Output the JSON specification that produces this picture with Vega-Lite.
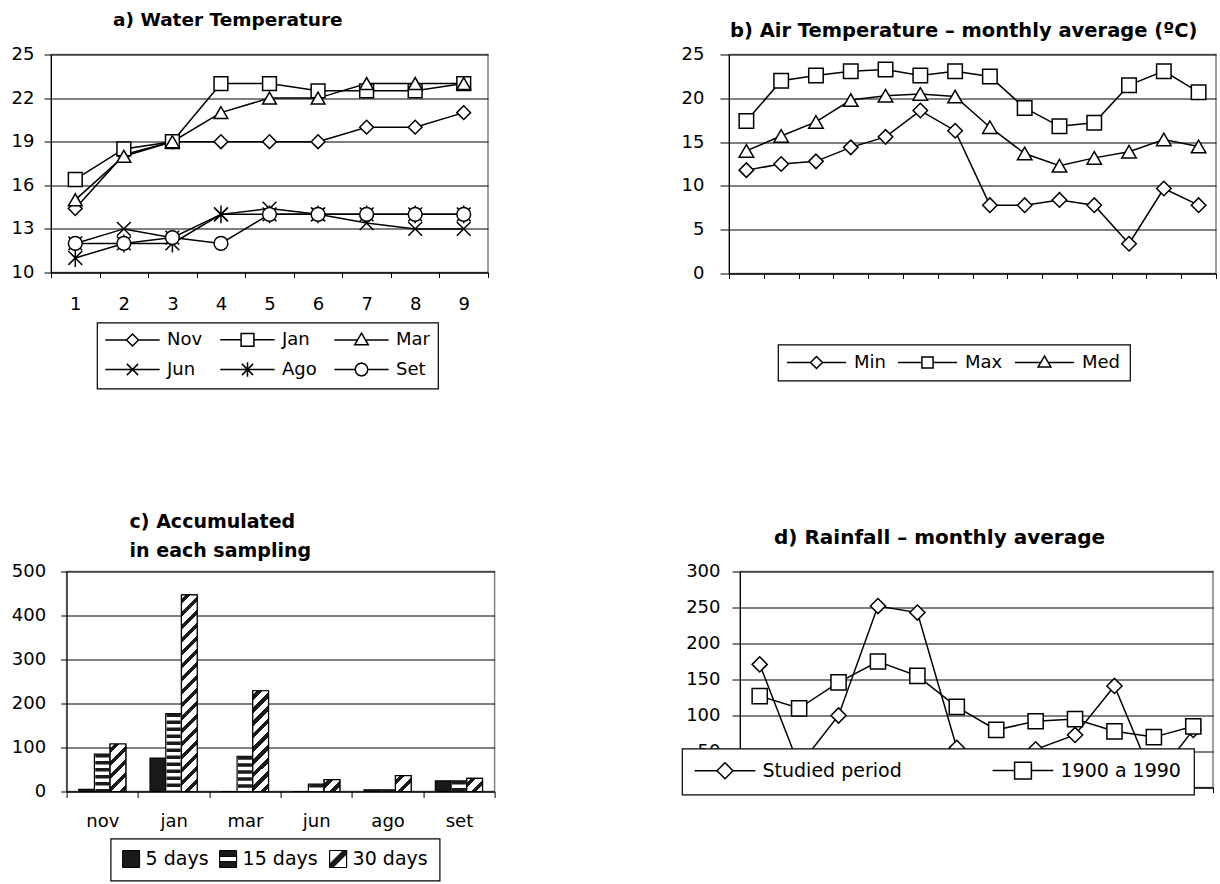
{
  "$schema": "https://vega.github.io/schema/vega-lite/v6.json",
  "padding": {"left": 10, "top": 9.5, "right": 0, "bottom": 0},
  "background": "white",
  "config": {
    "font": "DejaVu Sans",
    "view": {"stroke": "#808080", "strokeWidth": 1.5},
    "axis": {"labelFont": "DejaVu Sans", "labelFontSize": 18, "labelColor": "black", "domainColor": "black", "domainWidth": 1, "tickColor": "black", "tickWidth": 1, "gridColor": "black", "gridWidth": 1, "gridOpacity": 1},
    "title": {"font": "DejaVu Sans", "fontSize": 18, "fontWeight": "bold", "color": "black"},
    "legend": {"labelFont": "DejaVu Sans", "labelColor": "black", "labelFontSize": 18, "strokeColor": "black", "strokeWidth": 1.2, "fillColor": "white", "cornerRadius": 0, "symbolOpacity": 1, "symbolStrokeWidth": 1.5}
  },
  "datasets": {
    "water": [
      {"s": 1, "month": "Nov", "temp": 14.4}, {"s": 2, "month": "Nov", "temp": 18.1}, {"s": 3, "month": "Nov", "temp": 19}, {"s": 4, "month": "Nov", "temp": 19}, {"s": 5, "month": "Nov", "temp": 19}, {"s": 6, "month": "Nov", "temp": 19}, {"s": 7, "month": "Nov", "temp": 20}, {"s": 8, "month": "Nov", "temp": 20}, {"s": 9, "month": "Nov", "temp": 21},
      {"s": 1, "month": "Jan", "temp": 16.4}, {"s": 2, "month": "Jan", "temp": 18.5}, {"s": 3, "month": "Jan", "temp": 19}, {"s": 4, "month": "Jan", "temp": 23}, {"s": 5, "month": "Jan", "temp": 23}, {"s": 6, "month": "Jan", "temp": 22.5}, {"s": 7, "month": "Jan", "temp": 22.5}, {"s": 8, "month": "Jan", "temp": 22.5}, {"s": 9, "month": "Jan", "temp": 23},
      {"s": 1, "month": "Mar", "temp": 15}, {"s": 2, "month": "Mar", "temp": 18}, {"s": 3, "month": "Mar", "temp": 19}, {"s": 4, "month": "Mar", "temp": 21}, {"s": 5, "month": "Mar", "temp": 22}, {"s": 6, "month": "Mar", "temp": 22}, {"s": 7, "month": "Mar", "temp": 23}, {"s": 8, "month": "Mar", "temp": 23}, {"s": 9, "month": "Mar", "temp": 23},
      {"s": 1, "month": "Jun", "temp": 12}, {"s": 2, "month": "Jun", "temp": 13}, {"s": 3, "month": "Jun", "temp": 12.4}, {"s": 4, "month": "Jun", "temp": 14}, {"s": 5, "month": "Jun", "temp": 14.4}, {"s": 6, "month": "Jun", "temp": 14}, {"s": 7, "month": "Jun", "temp": 13.4}, {"s": 8, "month": "Jun", "temp": 13}, {"s": 9, "month": "Jun", "temp": 13},
      {"s": 1, "month": "Ago", "temp": 11}, {"s": 2, "month": "Ago", "temp": 12}, {"s": 3, "month": "Ago", "temp": 12}, {"s": 4, "month": "Ago", "temp": 14}, {"s": 5, "month": "Ago", "temp": 14}, {"s": 6, "month": "Ago", "temp": 14}, {"s": 7, "month": "Ago", "temp": 14}, {"s": 8, "month": "Ago", "temp": 14}, {"s": 9, "month": "Ago", "temp": 14},
      {"s": 1, "month": "Set", "temp": 12}, {"s": 2, "month": "Set", "temp": 12}, {"s": 3, "month": "Set", "temp": 12.4}, {"s": 4, "month": "Set", "temp": 12}, {"s": 5, "month": "Set", "temp": 14}, {"s": 6, "month": "Set", "temp": 14}, {"s": 7, "month": "Set", "temp": 14}, {"s": 8, "month": "Set", "temp": 14}, {"s": 9, "month": "Set", "temp": 14}
    ],
    "air": [
      {"m": 1, "series": "Min", "value": 11.8}, {"m": 2, "series": "Min", "value": 12.5}, {"m": 3, "series": "Min", "value": 12.8}, {"m": 4, "series": "Min", "value": 14.4}, {"m": 5, "series": "Min", "value": 15.6}, {"m": 6, "series": "Min", "value": 18.6}, {"m": 7, "series": "Min", "value": 16.3}, {"m": 8, "series": "Min", "value": 7.8}, {"m": 9, "series": "Min", "value": 7.8}, {"m": 10, "series": "Min", "value": 8.4}, {"m": 11, "series": "Min", "value": 7.8}, {"m": 12, "series": "Min", "value": 3.4}, {"m": 13, "series": "Min", "value": 9.7}, {"m": 14, "series": "Min", "value": 7.8},
      {"m": 1, "series": "Max", "value": 17.4}, {"m": 2, "series": "Max", "value": 22.0}, {"m": 3, "series": "Max", "value": 22.6}, {"m": 4, "series": "Max", "value": 23.1}, {"m": 5, "series": "Max", "value": 23.3}, {"m": 6, "series": "Max", "value": 22.6}, {"m": 7, "series": "Max", "value": 23.1}, {"m": 8, "series": "Max", "value": 22.5}, {"m": 9, "series": "Max", "value": 18.9}, {"m": 10, "series": "Max", "value": 16.8}, {"m": 11, "series": "Max", "value": 17.2}, {"m": 12, "series": "Max", "value": 21.5}, {"m": 13, "series": "Max", "value": 23.1}, {"m": 14, "series": "Max", "value": 20.7},
      {"m": 1, "series": "Med", "value": 14.0}, {"m": 2, "series": "Med", "value": 15.7}, {"m": 3, "series": "Med", "value": 17.3}, {"m": 4, "series": "Med", "value": 19.8}, {"m": 5, "series": "Med", "value": 20.3}, {"m": 6, "series": "Med", "value": 20.5}, {"m": 7, "series": "Med", "value": 20.2}, {"m": 8, "series": "Med", "value": 16.7}, {"m": 9, "series": "Med", "value": 13.7}, {"m": 10, "series": "Med", "value": 12.3}, {"m": 11, "series": "Med", "value": 13.2}, {"m": 12, "series": "Med", "value": 13.9}, {"m": 13, "series": "Med", "value": 15.3}, {"m": 14, "series": "Med", "value": 14.5}
    ],
    "accum": [
      {"month": "nov", "period": "5 days", "value": 5}, {"month": "nov", "period": "15 days", "value": 85}, {"month": "nov", "period": "30 days", "value": 108},
      {"month": "jan", "period": "5 days", "value": 76}, {"month": "jan", "period": "15 days", "value": 177}, {"month": "jan", "period": "30 days", "value": 447},
      {"month": "mar", "period": "5 days", "value": 0}, {"month": "mar", "period": "15 days", "value": 80}, {"month": "mar", "period": "30 days", "value": 229},
      {"month": "jun", "period": "5 days", "value": 0}, {"month": "jun", "period": "15 days", "value": 17}, {"month": "jun", "period": "30 days", "value": 27},
      {"month": "ago", "period": "5 days", "value": 4}, {"month": "ago", "period": "15 days", "value": 4}, {"month": "ago", "period": "30 days", "value": 36},
      {"month": "set", "period": "5 days", "value": 24}, {"month": "set", "period": "15 days", "value": 24}, {"month": "set", "period": "30 days", "value": 30}
    ],
    "rain": [
      {"m": 1, "series": "Studied period", "value": 171}, {"m": 2, "series": "Studied period", "value": 30}, {"m": 3, "series": "Studied period", "value": 100}, {"m": 4, "series": "Studied period", "value": 252}, {"m": 5, "series": "Studied period", "value": 243}, {"m": 6, "series": "Studied period", "value": 55}, {"m": 7, "series": "Studied period", "value": 30}, {"m": 8, "series": "Studied period", "value": 53}, {"m": 9, "series": "Studied period", "value": 73}, {"m": 10, "series": "Studied period", "value": 141}, {"m": 11, "series": "Studied period", "value": 10}, {"m": 12, "series": "Studied period", "value": 80},
      {"m": 1, "series": "1900 a 1990", "value": 127}, {"m": 2, "series": "1900 a 1990", "value": 110}, {"m": 3, "series": "1900 a 1990", "value": 146}, {"m": 4, "series": "1900 a 1990", "value": 175}, {"m": 5, "series": "1900 a 1990", "value": 155}, {"m": 6, "series": "1900 a 1990", "value": 112}, {"m": 7, "series": "1900 a 1990", "value": 80}, {"m": 8, "series": "1900 a 1990", "value": 92}, {"m": 9, "series": "1900 a 1990", "value": 95}, {"m": 10, "series": "1900 a 1990", "value": 78}, {"m": 11, "series": "1900 a 1990", "value": 70}, {"m": 12, "series": "1900 a 1990", "value": 85}
    ]
  },
  "resolve": {"scale": {"x": "independent", "y": "independent", "shape": "independent", "fill": "independent", "xOffset": "independent"}, "legend": {"shape": "independent", "fill": "independent"}, "axis": {"x": "independent", "y": "independent"}},
  "columns": 1,
  "align": "none",
  "spacing": 121,
  "concat": [
    {
      "spacing": 190,
      "resolve": {"scale": {"x": "independent", "y": "independent", "shape": "independent"}, "legend": {"shape": "independent"}, "axis": {"x": "independent", "y": "independent"}},
      "hconcat": [
        {
          "width": 437, "height": 218,
          "title": {"text": "a) Water Temperature", "anchor": "start", "frame": "group", "dx": 62, "offset": 1, "baseline": "alphabetic", "fontSize": 18.5},
          "data": {"name": "water"},
          "encoding": {
            "x": {"field": "s", "type": "ordinal", "scale": {"type": "band", "paddingInner": 0, "paddingOuter": 0}, "axis": {"title": null, "labelAngle": 0, "tickBand": "extent", "tickSize": 5, "labelPadding": 18, "grid": false}},
            "y": {"field": "temp", "type": "quantitative", "scale": {"domain": [10, 25], "nice": false, "zero": false}, "axis": {"title": null, "values": [10, 13, 16, 19, 22, 25], "tickSize": 7, "labelPadding": 10, "grid": true}}
          },
          "resolve": {"scale": {"shape": "independent"}, "legend": {"shape": "independent"}},
          "layer": [
            {"mark": {"type": "line", "stroke": "black", "strokeWidth": 1.5}, "encoding": {"detail": {"field": "month", "type": "nominal"}}},
            {"mark": {"type": "point", "filled": true, "fill": "white", "stroke": "black", "strokeWidth": 1.5, "size": 190, "opacity": 1},
             "encoding": {"shape": {"field": "month", "type": "nominal", "legend": null,
               "scale": {"domain": ["Nov", "Jan", "Mar", "Jun", "Ago", "Set"], "range": ["diamond", "square", "triangle-up", "M-1,-1L1,1M-1,1L1,-1", "M-1,-1L1,1M-1,1L1,-1M0,-1.3L0,1.3", "circle"]}}}},
            {"transform": [{"filter": "false"}],
             "mark": {"type": "point", "filled": true, "fill": "white", "stroke": "black", "strokeWidth": 1.5, "opacity": 1},
             "encoding": {"shape": {"field": "month", "type": "nominal",
               "scale": {"domain": ["Nov", "Jan", "Mar", "Jun", "Ago", "Set"], "range": [
                 "M-3.4,0L-0.75,0M0.75,0L3.4,0M-0.75,0L0,-0.75L0.75,0L0,0.75Z",
                 "M-3.4,0L-0.8,0M0.8,0L3.4,0M-0.8,-0.8L0.8,-0.8L0.8,0.8L-0.8,0.8Z",
                 "M-3.4,0L-0.5,0M0.5,0L3.4,0M0,-0.85L0.85,0.6L-0.85,0.6Z",
                 "M-3.4,0L3.4,0M-0.7,-0.7L0.7,0.7M-0.7,0.7L0.7,-0.7",
                 "M-3.4,0L3.4,0M-0.7,-0.7L0.7,0.7M-0.7,0.7L0.7,-0.7M0,-0.9L0,0.9",
                 "M-3.4,0L-0.8,0M0.8,0L3.4,0M0.8,0L0.693,0.4L0.4,0.693L0,0.8L-0.4,0.693L-0.693,0.4L-0.8,0L-0.693,-0.4L-0.4,-0.693L0,-0.8L0.4,-0.693L0.693,-0.4Z"]},
               "legend": {"orient": "none", "legendX": 46, "legendY": 268, "direction": "horizontal", "columns": 3, "title": null, "padding": 8,
                 "symbolSize": 256, "symbolOffset": 18.5, "labelOffset": 25.5, "columnPadding": 14, "rowPadding": 9, "labelFontSize": 18}}}}
          ]
        },
        {
          "width": 487, "height": 219,
          "title": {"text": "b) Air Temperature – monthly average (ºC)", "anchor": "start", "frame": "group", "dx": 1, "offset": -11, "baseline": "alphabetic", "fontSize": 19.5},
          "data": {"name": "air"},
          "encoding": {
            "x": {"field": "m", "type": "ordinal", "scale": {"type": "band", "paddingInner": 0, "paddingOuter": 0}, "axis": {"title": null, "labels": false, "tickBand": "extent", "tickSize": 5, "grid": false}},
            "y": {"field": "value", "type": "quantitative", "scale": {"domain": [0, 25], "nice": false}, "axis": {"title": null, "values": [0, 5, 10, 15, 20, 25], "tickSize": 9, "labelPadding": 16, "grid": true}}
          },
          "resolve": {"scale": {"shape": "independent"}, "legend": {"shape": "independent"}},
          "layer": [
            {"mark": {"type": "line", "stroke": "black", "strokeWidth": 1.5}, "encoding": {"detail": {"field": "series", "type": "nominal"}}},
            {"mark": {"type": "point", "filled": true, "fill": "white", "stroke": "black", "strokeWidth": 1.5, "size": 210, "opacity": 1},
             "encoding": {"shape": {"field": "series", "type": "nominal", "legend": null,
               "scale": {"domain": ["Min", "Max", "Med"], "range": ["diamond", "square", "triangle-up"]}}}},
            {"transform": [{"filter": "false"}],
             "mark": {"type": "point", "filled": true, "fill": "white", "stroke": "black", "strokeWidth": 1.5, "opacity": 1},
             "encoding": {"shape": {"field": "series", "type": "nominal",
               "scale": {"domain": ["Min", "Max", "Med"], "range": [
                 "M-3.7,0L-0.75,0M0.75,0L3.7,0M-0.75,0L0,-0.75L0.75,0L0,0.75Z",
                 "M-3.7,0L-0.7,0M0.7,0L3.7,0M-0.7,-0.7L0.7,-0.7L0.7,0.7L-0.7,0.7Z",
                 "M-3.7,0L-0.47,0M0.47,0L3.7,0M0,-0.8L0.8,0.56L-0.8,0.56Z"]},
               "legend": {"orient": "none", "legendX": 49, "legendY": 290, "direction": "horizontal", "columns": 3, "title": null, "padding": 9,
                 "symbolSize": 256, "symbolOffset": 20.5, "labelOffset": 28.5, "columnPadding": 8, "labelFontSize": 18}}}}
          ]
        }
      ]
    },
    {
      "spacing": 184,
      "resolve": {"scale": {"x": "independent", "y": "independent", "shape": "independent", "fill": "independent", "xOffset": "independent"}, "legend": {"shape": "independent", "fill": "independent"}, "axis": {"x": "independent", "y": "independent"}},
      "hconcat": [
        {
          "spacing": -42.4,
          "resolve": {"scale": {"x": "independent", "y": "independent", "shape": "independent", "fill": "independent", "xOffset": "independent"}, "legend": {"shape": "independent", "fill": "independent"}, "axis": {"x": "independent", "y": "independent"}},
          "hconcat": [
            {
              "width": 1, "height": 1,
              "view": {"stroke": null, "fill": "white"},
              "data": {"values": []},
              "mark": {"type": "point", "opacity": 0},
              "encoding": {}
            },
            {
              "width": 428, "height": 220,
              "title": {"text": ["c) Accumulated", "in each sampling"], "anchor": "start", "frame": "group", "dx": 63, "offset": -17.5, "baseline": "bottom", "lineHeight": 29, "fontSize": 19},
              "data": {"name": "accum"},
              "encoding": {
                "x": {"field": "month", "type": "nominal", "sort": null, "scale": {"domain": ["nov", "jan", "mar", "jun", "ago", "set"], "type": "band", "paddingInner": 0, "paddingOuter": 0}, "axis": {"title": null, "labelAngle": 0, "tickBand": "extent", "tickSize": 6, "labelPadding": 15, "grid": false}},
                "xOffset": {"field": "period", "type": "nominal", "scale": {"domain": ["5 days", "15 days", "30 days"], "paddingInner": 0, "paddingOuter": 0.77}},
                "y": {"field": "value", "type": "quantitative", "scale": {"domain": [0, 500], "nice": false}, "axis": {"title": null, "values": [0, 100, 200, 300, 400, 500], "tickSize": 6, "labelPadding": 15, "grid": true}}
              },
              "layer": [
                {"mark": {"type": "bar", "stroke": "black", "strokeWidth": 1.2, "opacity": 1},
                 "encoding": {"fill": {"condition": {"test": "datum.period === '5 days'", "value": "#1a1a1a"}, "value": "white"}}},
                {"transform": [{"filter": "datum.period === '15 days'"}],
                 "mark": {"type": "rule", "stroke": "#1a1a1a", "strokeWidth": 14, "strokeDash": [3.5, 3.5], "strokeCap": "butt"},
                 "encoding": {"y2": {"datum": 0}}},
                {"transform": [{"filter": "datum.period === '30 days'"}],
                 "mark": {"type": "bar", "stroke": "black", "strokeWidth": 1.2, "opacity": 1},
                 "encoding": {"fill": {
                   "condition": [
                     {"test": "datum.month === 'nov'", "value": {"gradient": "linear", "x1": 0, "y1": 0, "x2": 0.3965, "y2": 1.1995, "stops": [
                       {"offset": 0, "color": "white"},
                       {"offset": 0.063, "color": "white"}, {"offset": 0.063, "color": "#1a1a1a"}, {"offset": 0.150, "color": "#1a1a1a"}, {"offset": 0.150, "color": "white"},
                       {"offset": 0.269, "color": "white"}, {"offset": 0.269, "color": "#1a1a1a"}, {"offset": 0.356, "color": "#1a1a1a"}, {"offset": 0.356, "color": "white"},
                       {"offset": 0.475, "color": "white"}, {"offset": 0.475, "color": "#1a1a1a"}, {"offset": 0.562, "color": "#1a1a1a"}, {"offset": 0.562, "color": "white"},
                       {"offset": 0.680, "color": "white"}, {"offset": 0.680, "color": "#1a1a1a"}, {"offset": 0.767, "color": "#1a1a1a"}, {"offset": 0.767, "color": "white"},
                       {"offset": 0.886, "color": "white"}, {"offset": 0.886, "color": "#1a1a1a"}, {"offset": 0.973, "color": "#1a1a1a"}, {"offset": 0.973, "color": "white"},
                       {"offset": 1, "color": "white"}]}},
                     {"test": "datum.month === 'jan'", "value": {"gradient": "linear", "x1": 0, "y1": 0, "x2": 0.0857, "y2": 1.073, "stops": [
                       {"offset": 0, "color": "white"},
                       {"offset": 0.019, "color": "white"}, {"offset": 0.019, "color": "#1a1a1a"}, {"offset": 0.045, "color": "#1a1a1a"}, {"offset": 0.045, "color": "white"},
                       {"offset": 0.080, "color": "white"}, {"offset": 0.080, "color": "#1a1a1a"}, {"offset": 0.106, "color": "#1a1a1a"}, {"offset": 0.106, "color": "white"},
                       {"offset": 0.141, "color": "white"}, {"offset": 0.141, "color": "#1a1a1a"}, {"offset": 0.167, "color": "#1a1a1a"}, {"offset": 0.167, "color": "white"},
                       {"offset": 0.202, "color": "white"}, {"offset": 0.202, "color": "#1a1a1a"}, {"offset": 0.228, "color": "#1a1a1a"}, {"offset": 0.228, "color": "white"},
                       {"offset": 0.264, "color": "white"}, {"offset": 0.264, "color": "#1a1a1a"}, {"offset": 0.290, "color": "#1a1a1a"}, {"offset": 0.290, "color": "white"},
                       {"offset": 0.325, "color": "white"}, {"offset": 0.325, "color": "#1a1a1a"}, {"offset": 0.351, "color": "#1a1a1a"}, {"offset": 0.351, "color": "white"},
                       {"offset": 0.386, "color": "white"}, {"offset": 0.386, "color": "#1a1a1a"}, {"offset": 0.412, "color": "#1a1a1a"}, {"offset": 0.412, "color": "white"},
                       {"offset": 0.447, "color": "white"}, {"offset": 0.447, "color": "#1a1a1a"}, {"offset": 0.473, "color": "#1a1a1a"}, {"offset": 0.473, "color": "white"},
                       {"offset": 0.509, "color": "white"}, {"offset": 0.509, "color": "#1a1a1a"}, {"offset": 0.534, "color": "#1a1a1a"}, {"offset": 0.534, "color": "white"},
                       {"offset": 0.570, "color": "white"}, {"offset": 0.570, "color": "#1a1a1a"}, {"offset": 0.596, "color": "#1a1a1a"}, {"offset": 0.596, "color": "white"},
                       {"offset": 0.631, "color": "white"}, {"offset": 0.631, "color": "#1a1a1a"}, {"offset": 0.657, "color": "#1a1a1a"}, {"offset": 0.657, "color": "white"},
                       {"offset": 0.692, "color": "white"}, {"offset": 0.692, "color": "#1a1a1a"}, {"offset": 0.718, "color": "#1a1a1a"}, {"offset": 0.718, "color": "white"},
                       {"offset": 0.753, "color": "white"}, {"offset": 0.753, "color": "#1a1a1a"}, {"offset": 0.779, "color": "#1a1a1a"}, {"offset": 0.779, "color": "white"},
                       {"offset": 0.815, "color": "white"}, {"offset": 0.815, "color": "#1a1a1a"}, {"offset": 0.840, "color": "#1a1a1a"}, {"offset": 0.840, "color": "white"},
                       {"offset": 0.876, "color": "white"}, {"offset": 0.876, "color": "#1a1a1a"}, {"offset": 0.902, "color": "#1a1a1a"}, {"offset": 0.902, "color": "white"},
                       {"offset": 0.937, "color": "white"}, {"offset": 0.937, "color": "#1a1a1a"}, {"offset": 0.963, "color": "#1a1a1a"}, {"offset": 0.963, "color": "white"},
                       {"offset": 1, "color": "white"}]}},
                     {"test": "datum.month === 'mar'", "value": {"gradient": "linear", "x1": 0, "y1": 0, "x2": 0.1757, "y2": 1.1284, "stops": [
                       {"offset": 0, "color": "white"},
                       {"offset": 0.034, "color": "white"}, {"offset": 0.034, "color": "#1a1a1a"}, {"offset": 0.082, "color": "#1a1a1a"}, {"offset": 0.082, "color": "white"},
                       {"offset": 0.146, "color": "white"}, {"offset": 0.146, "color": "#1a1a1a"}, {"offset": 0.193, "color": "#1a1a1a"}, {"offset": 0.193, "color": "white"},
                       {"offset": 0.258, "color": "white"}, {"offset": 0.258, "color": "#1a1a1a"}, {"offset": 0.305, "color": "#1a1a1a"}, {"offset": 0.305, "color": "white"},
                       {"offset": 0.369, "color": "white"}, {"offset": 0.369, "color": "#1a1a1a"}, {"offset": 0.416, "color": "#1a1a1a"}, {"offset": 0.416, "color": "white"},
                       {"offset": 0.481, "color": "white"}, {"offset": 0.481, "color": "#1a1a1a"}, {"offset": 0.528, "color": "#1a1a1a"}, {"offset": 0.528, "color": "white"},
                       {"offset": 0.592, "color": "white"}, {"offset": 0.592, "color": "#1a1a1a"}, {"offset": 0.640, "color": "#1a1a1a"}, {"offset": 0.640, "color": "white"},
                       {"offset": 0.704, "color": "white"}, {"offset": 0.704, "color": "#1a1a1a"}, {"offset": 0.751, "color": "#1a1a1a"}, {"offset": 0.751, "color": "white"},
                       {"offset": 0.816, "color": "white"}, {"offset": 0.816, "color": "#1a1a1a"}, {"offset": 0.863, "color": "#1a1a1a"}, {"offset": 0.863, "color": "white"},
                       {"offset": 0.927, "color": "white"}, {"offset": 0.927, "color": "#1a1a1a"}, {"offset": 0.974, "color": "#1a1a1a"}, {"offset": 0.974, "color": "white"},
                       {"offset": 1, "color": "white"}]}},
                     {"test": "datum.month === 'jun'", "value": {"gradient": "linear", "x1": 0, "y1": 0, "x2": 1.117, "y2": 0.846, "stops": [
                       {"offset": 0, "color": "white"},
                       {"offset": 0.145, "color": "white"}, {"offset": 0.145, "color": "#1a1a1a"}, {"offset": 0.344, "color": "#1a1a1a"}, {"offset": 0.344, "color": "white"},
                       {"offset": 0.616, "color": "white"}, {"offset": 0.616, "color": "#1a1a1a"}, {"offset": 0.815, "color": "#1a1a1a"}, {"offset": 0.815, "color": "white"},
                       {"offset": 1, "color": "white"}]}},
                     {"test": "datum.month === 'ago'", "value": {"gradient": "linear", "x1": 0, "y1": 0, "x2": 0.997, "y2": 1.003, "stops": [
                       {"offset": 0, "color": "white"},
                       {"offset": 0.127, "color": "white"}, {"offset": 0.127, "color": "#1a1a1a"}, {"offset": 0.302, "color": "#1a1a1a"}, {"offset": 0.302, "color": "white"},
                       {"offset": 0.540, "color": "white"}, {"offset": 0.540, "color": "#1a1a1a"}, {"offset": 0.714, "color": "#1a1a1a"}, {"offset": 0.714, "color": "white"},
                       {"offset": 0.952, "color": "white"}, {"offset": 0.952, "color": "#1a1a1a"}, {"offset": 1, "color": "#1a1a1a"}]}},
                     {"test": "datum.month === 'set'", "value": {"gradient": "linear", "x1": 0, "y1": 0, "x2": 1.079, "y2": 0.907, "stops": [
                       {"offset": 0, "color": "white"},
                       {"offset": 0.138, "color": "white"}, {"offset": 0.138, "color": "#1a1a1a"}, {"offset": 0.329, "color": "#1a1a1a"}, {"offset": 0.329, "color": "white"},
                       {"offset": 0.588, "color": "white"}, {"offset": 0.588, "color": "#1a1a1a"}, {"offset": 0.779, "color": "#1a1a1a"}, {"offset": 0.779, "color": "white"},
                       {"offset": 1, "color": "white"}]}}
                   ],
                   "value": "white"}}},
                {"transform": [{"filter": "false"}],
                 "mark": {"type": "point", "filled": true, "fill": "#1a1a1a", "stroke": "black", "strokeWidth": 1, "opacity": 1},
                 "encoding": {"shape": {"field": "period", "type": "nominal",
                   "scale": {"domain": ["5 days", "15 days", "30 days"], "range": [
                     "M-1,-1L1,-1L1,1L-1,1Z",
                     "M-1,-1L1,-1L1,1L-1,1ZM-1,-0.3L-1,0.3L1,0.3L1,-0.3Z",
                     "M-1,-1L1,-1L1,1L-1,1ZM-1,-1L-1,1L1,1L1,-1ZM-1,0.6L0.6,-1L1,-1L1,-0.6L-0.6,1L-1,1Z"]},
                   "legend": {"orient": "none", "legendX": 44, "legendY": 267, "direction": "horizontal", "title": null, "padding": 11,
                     "symbolSize": 289, "symbolStrokeWidth": 1, "labelOffset": 5, "columnPadding": 9, "labelFontSize": 19}}}}
              ]
            }
          ]
        },
        {
          "width": 473, "height": 216,
          "title": {"text": "d) Rainfall – monthly average", "anchor": "start", "frame": "group", "dx": 34, "offset": -1.5, "baseline": "alphabetic", "fontSize": 20},
          "data": {"name": "rain"},
          "encoding": {
            "x": {"field": "m", "type": "ordinal", "scale": {"type": "band", "paddingInner": 0, "paddingOuter": 0}, "axis": {"title": null, "labels": false, "tickBand": "extent", "tickSize": 5, "grid": false}},
            "y": {"field": "value", "type": "quantitative", "scale": {"domain": [0, 300], "nice": false}, "axis": {"title": null, "values": [0, 50, 100, 150, 200, 250, 300], "tickSize": 8, "labelPadding": 12, "grid": true}}
          },
          "resolve": {"scale": {"shape": "independent"}, "legend": {"shape": "independent"}},
          "layer": [
            {"mark": {"type": "line", "stroke": "black", "strokeWidth": 1.5}, "encoding": {"detail": {"field": "series", "type": "nominal"}}},
            {"mark": {"type": "point", "filled": true, "fill": "white", "stroke": "black", "strokeWidth": 1.5, "size": 230, "opacity": 1},
             "encoding": {"shape": {"field": "series", "type": "nominal", "legend": null,
               "scale": {"domain": ["Studied period", "1900 a 1990"], "range": ["diamond", "square"]}}}},
            {"transform": [{"filter": "false"}],
             "mark": {"type": "point", "filled": true, "fill": "white", "stroke": "black", "strokeWidth": 1.5, "opacity": 1},
             "encoding": {"shape": {"field": "series", "type": "nominal",
               "scale": {"domain": ["Studied period", "1900 a 1990"], "range": [
                 "M-3.8,0L-1,0M1,0L3.8,0M-1,0L0,-1L1,0L0,1Z",
                 "M-3.8,0L-1.05,0M1.05,0L3.8,0M-1.05,-1.05L1.05,-1.05L1.05,1.05L-1.05,1.05Z"]},
               "legend": {"orient": "none", "legendX": -58, "legendY": 177, "direction": "horizontal", "columns": 2, "title": null, "padding": 12.5,
                 "symbolSize": 256, "symbolOffset": 21, "labelOffset": 28, "columnPadding": 87, "labelFontSize": 19}}}}
          ]
        }
      ]
    }
  ]
}
